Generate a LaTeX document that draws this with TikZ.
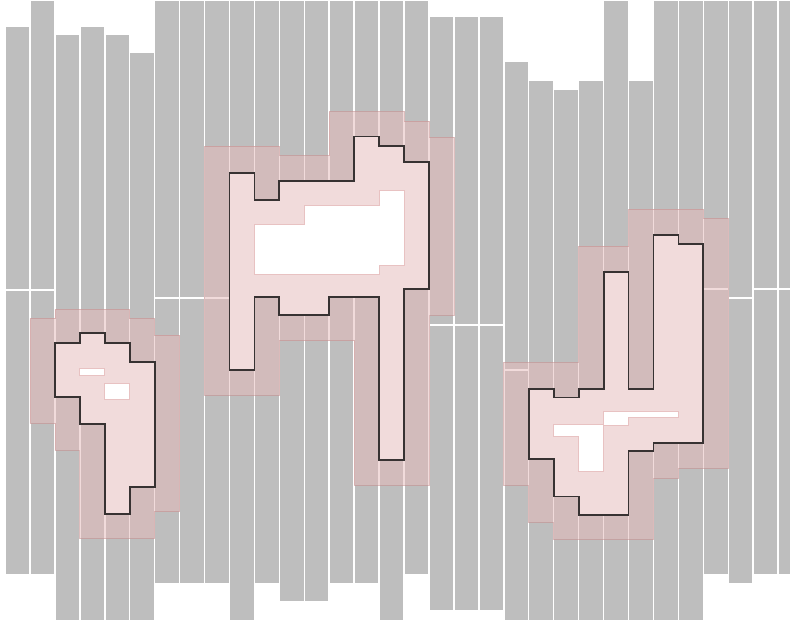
\documentclass[tikz,border=0pt]{standalone}
\usetikzlibrary{calc}
\definecolor{bargray}{RGB}{190,190,190}
\definecolor{pinkfill}{RGB}{230,186,186}
\definecolor{pinkline}{RGB}{196,140,140}
\definecolor{holeline}{RGB}{232,194,194}
\definecolor{outline}{RGB}{55,50,50}
\tikzset{
  bar/.style={fill=bargray, draw=none},
  dilated/.style={fill=pinkfill, fill opacity=0.52, draw=pinkline, draw opacity=0.55, line width=0.8pt},
  cutout/.style={fill=white, draw=none},
  hole/.style={fill=white, draw=holeline, line width=0.8pt},
  region/.style={draw=outline, line width=1.8pt, line join=miter},
}
\begin{document}
\begin{tikzpicture}[x=1pt,y=-1pt]
\clip (0,0) rectangle (790,630);
\fill[white] (0,0) rectangle (790,630);
% gray columns: index/top/bottom/split
\foreach \k/\t/\b/\s in {
 0/26.7/574/290, 1/1/574/290, 2/35/620/0, 3/26.7/620/0, 4/35/620/0, 5/52.7/620/0,
 6/1/582.7/298, 7/1/582.7/298, 8/1/582.7/298, 9/1/620/0, 10/1/582.7/0,
 11/1/601/0, 12/1/601/0, 13/1/582.7/0, 14/1/582.7/0, 15/1/620/0, 16/1/574/0,
 17/16.7/610/325, 18/16.7/610/325, 19/16.7/610/325, 20/62.3/620/370,
 21/80.7/620/0, 22/90/620/0, 23/80.7/620/0, 24/1/620/0, 25/80.7/620/0,
 26/1/620/0, 27/1/620/0, 28/1/574/289, 29/1/582.7/298, 30/1/574/289, 31/1/574/289}{
  \pgfmathsetmacro\xl{5+24.94*\k+0.75}
  \pgfmathsetmacro\xr{5+24.94*(\k+1)-0.75}
  \ifnum\s=0
    \fill[bar] (\xl,\t) rectangle (\xr,\b);
  \else
    \fill[bar] (\xl,\t) rectangle (\xr,\s-0.8);
    \fill[bar] (\xl,\s+0.8) rectangle (\xr,\b);
  \fi
}
% cut the original regions out of the columns
\fill[cutout] (79.8,333.3) -- (104.8,333.3) -- (104.8,343.3) -- (129.7,343.3) -- (129.7,361.7) -- (154.6,361.7) -- (154.6,487) -- (129.7,487) -- (129.7,514.3) -- (104.8,514.3) -- (104.8,424) -- (79.8,424) -- (79.8,396.7) -- (54.9,396.7) -- (54.9,343.3) -- (79.8,343.3) -- cycle;
\fill[cutout] (229.5,173.3) -- (254.4,173.3) -- (254.4,200) -- (279.3,200) -- (279.3,181) -- (354.2,181) -- (354.2,136.5) -- (379.1,136.5) -- (379.1,146) -- (404,146) -- (404,162.3) -- (429,162.3) -- (429,289) -- (404,289) -- (404,460) -- (379.1,460) -- (379.1,297.3) -- (329.2,297.3) -- (329.2,315) -- (279.3,315) -- (279.3,297.3) -- (254.4,297.3) -- (254.4,370) -- (229.5,370) -- cycle;
\fill[cutout] (603.6,272.3) -- (628.5,272.3) -- (628.5,389) -- (653.4,389) -- (653.4,235) -- (678.4,235) -- (678.4,244.3) -- (703.3,244.3) -- (703.3,442.7) -- (653.4,442.7) -- (653.4,451) -- (628.5,451) -- (628.5,515) -- (578.6,515) -- (578.6,496.5) -- (553.7,496.5) -- (553.7,459.3) -- (528.7,459.3) -- (528.7,389) -- (553.7,389) -- (553.7,397.5) -- (578.6,397.5) -- (578.6,389) -- (603.6,389) -- cycle;
% dilated regions
\path[dilated] (29.9,318.3) -- (54.9,318.3) -- (54.9,309.3) -- (129.7,309.3) -- (129.7,318.3) -- (154.6,318.3) -- (154.6,335) -- (179.6,335) -- (179.6,511.7) -- (154.6,511.7) -- (154.6,538.3) -- (79.8,538.3) -- (79.8,450) -- (54.9,450) -- (54.9,423.3) -- (29.9,423.3) -- cycle;
\path[dilated] (204.5,146) -- (279.3,146) -- (279.3,155.7) -- (329.2,155.7) -- (329.2,111.7) -- (404,111.7) -- (404,121) -- (429,121) -- (429,137.3) -- (453.9,137.3) -- (453.9,315) -- (429,315) -- (429,485) -- (354.2,485) -- (354.2,340.7) -- (279.3,340.7) -- (279.3,395) -- (204.5,395) -- cycle;
\path[dilated] (578.6,246) -- (628.5,246) -- (628.5,209) -- (703.3,209) -- (703.3,218.3) -- (728.3,218.3) -- (728.3,468) -- (678.4,468) -- (678.4,478.3) -- (653.4,478.3) -- (653.4,539.3) -- (553.7,539.3) -- (553.7,522) -- (528.7,522) -- (528.7,485) -- (503.8,485) -- (503.8,362.5) -- (578.6,362.5) -- cycle;
% holes
\path[hole] (79.8,368) rectangle (104.8,375.5);
\path[hole] (104.8,383.5) rectangle (129.7,399.5);
\path[hole] (254.4,224.5) -- (304.3,224.5) -- (304.3,205.3) -- (379.1,205.3) -- (379.1,190) -- (404,190) -- (404,265) -- (379.1,265) -- (379.1,274) -- (254.4,274) -- cycle;
\path[hole] (603.6,411.7) -- (678.4,411.7) -- (678.4,417.5) -- (628.5,417.5) -- (628.5,425) -- (603.6,425) -- (603.6,471.7) -- (578.6,471.7) -- (578.6,436) -- (553.7,436) -- (553.7,424) -- (603.6,424) -- cycle;
% original region outlines
\draw[region] (79.8,333.3) -- (104.8,333.3) -- (104.8,343.3) -- (129.7,343.3) -- (129.7,361.7) -- (154.6,361.7) -- (154.6,487) -- (129.7,487) -- (129.7,514.3) -- (104.8,514.3) -- (104.8,424) -- (79.8,424) -- (79.8,396.7) -- (54.9,396.7) -- (54.9,343.3) -- (79.8,343.3) -- cycle;
\draw[region] (229.5,173.3) -- (254.4,173.3) -- (254.4,200) -- (279.3,200) -- (279.3,181) -- (354.2,181) -- (354.2,136.5) -- (379.1,136.5) -- (379.1,146) -- (404,146) -- (404,162.3) -- (429,162.3) -- (429,289) -- (404,289) -- (404,460) -- (379.1,460) -- (379.1,297.3) -- (329.2,297.3) -- (329.2,315) -- (279.3,315) -- (279.3,297.3) -- (254.4,297.3) -- (254.4,370) -- (229.5,370) -- cycle;
\draw[region] (603.6,272.3) -- (628.5,272.3) -- (628.5,389) -- (653.4,389) -- (653.4,235) -- (678.4,235) -- (678.4,244.3) -- (703.3,244.3) -- (703.3,442.7) -- (653.4,442.7) -- (653.4,451) -- (628.5,451) -- (628.5,515) -- (578.6,515) -- (578.6,496.5) -- (553.7,496.5) -- (553.7,459.3) -- (528.7,459.3) -- (528.7,389) -- (553.7,389) -- (553.7,397.5) -- (578.6,397.5) -- (578.6,389) -- (603.6,389) -- cycle;
\end{tikzpicture}
\end{document}
